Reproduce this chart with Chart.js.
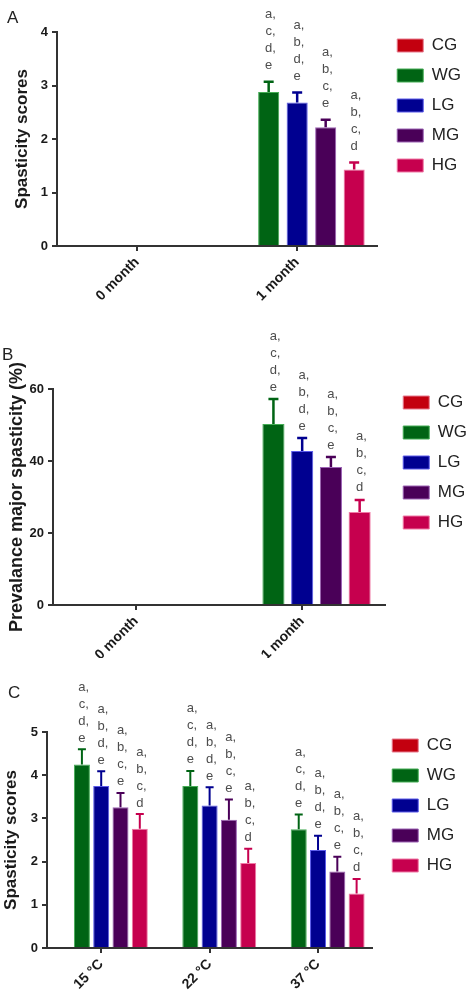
<!DOCTYPE html>
<html>
<head>
<meta charset="utf-8">
<script src="https://cdn.jsdelivr.net/npm/chart.js@4"></script>
<style>
  body { margin: 0; background: #fff; width: 472px; height: 1004px; position: relative; overflow: hidden; }
  canvas { position: absolute; left: 0; }
</style>
</head>
<body>
<canvas id="chartA" width="472" height="312" style="top:0px"></canvas>
<canvas id="chartB" width="472" height="340" style="top:318px"></canvas>
<canvas id="chartC" width="472" height="336" style="top:668px"></canvas>
<script>
Chart.defaults.font.family = '"Liberation Sans", Arial, Helvetica, sans-serif';
Chart.defaults.color = '#1a1a1a';

const groupNames = ['CG', 'WG', 'LG', 'MG', 'HG'];
const fills = ['#c3000f', '#006414', '#000090', '#4a0058', '#c6004e'];
const edges = ['#e77a8e', '#45ad55', '#5b5bea', '#9c62b4', '#f07aa6'];

const monthLabels = ['0 month', '1 month'];
const tempLabels = ['15 °C', '22 °C', '37 °C'];

// significance letters above each bar
const lettersCG = [];
const lettersWG = ['a,', 'c,', 'd,', 'e'];
const lettersLG = ['a,', 'b,', 'd,', 'e'];
const lettersMG = ['a,', 'b,', 'c,', 'e'];
const lettersHG = ['a,', 'b,', 'c,', 'd'];

// A: spasticity scores (mean, error)
const aCG = [0, 0],  aCGe = [0, 0];
const aWG = [0, 2.88], aWGe = [0, 0.19];
const aLG = [0, 2.68], aLGe = [0, 0.19];
const aMG = [0, 2.22], aMGe = [0, 0.14];
const aHG = [0, 1.43], aHGe = [0, 0.13];

// B: prevalence of major spasticity (%)
const bCG = [0, 0],  bCGe = [0, 0];
const bWG = [0, 50.3], bWGe = [0, 6.9];
const bLG = [0, 42.8], bLGe = [0, 3.6];
const bMG = [0, 38.3], bMGe = [0, 2.8];
const bHG = [0, 25.8], bHGe = [0, 3.4];

// C: spasticity scores by temperature
const cCG = [0, 0, 0], cCGe = [0, 0, 0];
const cWG = [4.25, 3.75, 2.75], cWGe = [0.35, 0.35, 0.34];
const cLG = [3.75, 3.30, 2.27], cLGe = [0.34, 0.42, 0.33];
const cMG = [3.26, 2.97, 1.77], cMGe = [0.33, 0.47, 0.34];
const cHG = [2.76, 1.97, 1.26], cHGe = [0.34, 0.33, 0.34];

const letterSets = [lettersCG, lettersWG, lettersLG, lettersMG, lettersHG];

function sets(means, errs) {
  return groupNames.map((g, i) => ({
    label: g, data: means[i], err: errs[i], letters: letterSets[i],
    backgroundColor: fills[i], borderColor: edges[i], borderWidth: 1
  }));
}

// error bars (upper only, with cap) + letters
const marks = {
  id: 'marks',
  afterDatasetsDraw(chart, args, opts) {
    const { ctx } = chart;
    const y = chart.scales.y;
    chart.data.datasets.forEach((d, di) => {
      chart.getDatasetMeta(di).data.forEach((bar, i) => {
        const v = d.data[i];
        if (!v) return;
        const top = y.getPixelForValue(v + d.err[i]);
        ctx.save();
        ctx.strokeStyle = d.backgroundColor;
        ctx.lineWidth = opts.lw;
        ctx.beginPath();
        ctx.moveTo(bar.x, bar.y);
        ctx.lineTo(bar.x, top);
        ctx.moveTo(bar.x - opts.cap, top);
        ctx.lineTo(bar.x + opts.cap, top);
        ctx.stroke();
        ctx.fillStyle = '#4d4d4d';
        ctx.font = '13px "Liberation Sans", Arial, sans-serif';
        ctx.textAlign = 'left';
        ctx.textBaseline = 'middle';
        const n = d.letters.length;
        d.letters.forEach((t, k) => {
          const w = ctx.measureText(t[0]).width;
          ctx.fillText(t, bar.x - w / 2, top - opts.gap - (n - 1 - k) * 17);
        });
        ctx.restore();
      });
    });
  }
};

// move the legend a little away from the plot
const legendShift = {
  id: 'legendShift',
  afterLayout(chart, args, opts) {
    const l = chart.legend;
    l.left += opts.dx; l.right += opts.dx;
    l.top += opts.dy; l.bottom += opts.dy;
  }
};

function panel(id, labels, datasets, o) {
  return new Chart(document.getElementById(id), {
    type: 'bar',
    data: { labels, datasets },
    options: {
      responsive: false, animation: false, devicePixelRatio: 1,
      categoryPercentage: o.cat, barPercentage: o.bar,
      layout: { padding: { left: o.padL, right: o.padR, top: 0, bottom: 0 } },
      plugins: {
        title: { display: true, text: o.letter, align: 'start', color: '#222',
                 font: { size: 17, weight: 'normal', lineHeight: 1 },
                 padding: { top: o.titleTop, bottom: o.titleBottom } },
        legend: { position: 'right', align: 'start', fullSize: false,
                  labels: { boxWidth: 26, boxHeight: 13, padding: 13, color: '#222', font: { size: 17 } } },
        tooltip: { enabled: false },
        marks: { gap: o.gap, cap: o.cap, lw: o.lw },
        legendShift: { dx: o.legendDx, dy: -8 }
      },
      scales: {
        x: {
          grid: { offset: false, drawOnChartArea: false, tickLength: 5, color: '#333', lineWidth: 2 },
          border: { color: '#333', width: 2 },
          ticks: { font: { size: 14, weight: 'bold' }, maxRotation: 45, minRotation: 45, padding: 3 },
          afterFit: s => { s.height = o.xH; }
        },
        y: {
          min: 0, max: o.max,
          ticks: { stepSize: o.step, font: { size: 13, weight: 'bold' }, padding: 4 },
          grid: { drawOnChartArea: false, tickLength: 5, color: '#333', lineWidth: 2 },
          border: { color: '#333', width: 2 },
          title: { display: true, text: o.yTitle, font: { size: o.yFont, weight: 'bold', lineHeight: 1 },
                   padding: { top: o.yPad, bottom: 0 } },
          afterFit: s => { s.width = o.yW; }
        }
      }
    },
    plugins: [marks, legendShift]
  });
}

panel('chartA', monthLabels,
  sets([aCG, aWG, aLG, aMG, aHG], [aCGe, aWGe, aLGe, aMGe, aHGe]),
  { letter: 'A', yTitle: 'Spasticity scores', yFont: 17, max: 4, step: 1,
    padL: 7, yW: 50, padR: 8, titleTop: 10, titleBottom: 5, xH: 66, yPad: 6.5,
    legendDx: 7, cat: 0.89, bar: 0.74, gap: 16, cap: 5, lw: 2.5 });

panel('chartB', monthLabels,
  sets([bCG, bWG, bLG, bMG, bHG], [bCGe, bWGe, bLGe, bMGe, bHGe]),
  { letter: 'B', yTitle: 'Prevalance major spasticity (%)', yFont: 18, max: 60, step: 20,
    padL: 2, yW: 51, padR: 0, titleTop: 28.5, titleBottom: 25.5, xH: 53, yPad: 6,
    legendDx: 5, cat: 0.865, bar: 0.77, gap: 12, cap: 5, lw: 2.5 });

panel('chartC', tempLabels,
  sets([cCG, cWG, cLG, cMG, cHG], [cCGe, cWGe, cLGe, cMGe, cHGe]),
  { letter: 'C', yTitle: 'Spasticity scores', yFont: 17, max: 5, step: 1,
    padL: 8, yW: 39, padR: 13, titleTop: 17, titleBottom: 30, xH: 56, yPad: -5.5,
    legendDx: 7, cat: 0.89, bar: 0.83, gap: 11, cap: 4, lw: 2 });
</script>
</body>
</html>
